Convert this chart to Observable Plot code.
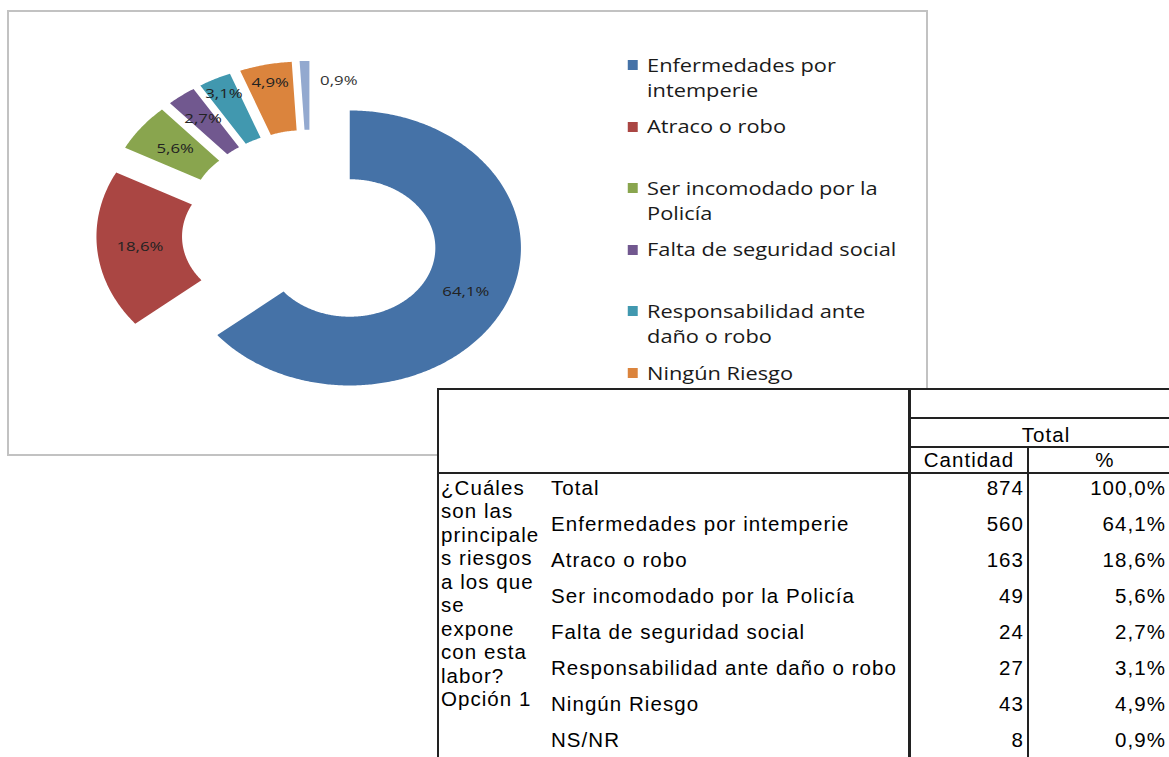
<!DOCTYPE html>
<html>
<head>
<meta charset="utf-8">
<script src="https://cdn.jsdelivr.net/npm/d3@7"></script>
<script src="https://cdn.jsdelivr.net/npm/@observablehq/plot@0.6"></script>
<style>
  html, body { margin: 0; padding: 0; background: #fff; }
  body { width: 1169px; height: 757px; overflow: hidden; position: relative; }
  #box { position: absolute; left: 7px; top: 10px; width: 917px; height: 442px;
         border: 2px solid #c2c2c2; overflow: hidden; background: #fff; }
  #stretch { position: absolute; left: 0; top: 0; width: 740px; height: 442px;
             transform: scaleX(1.245); transform-origin: 0 0; }
  #plot { position: absolute; left: 0; top: 0; }
  .leg { position: absolute; left: 497px; width: 222px; font-family: "Open Sans", sans-serif;
         font-size: 17.5px; line-height: 25px; color: #1a1a1a; }
  .leg .sw { position: absolute; left: 0; top: 7.5px; width: 8px; height: 10px; }
  .leg .lb { position: absolute; left: 15.5px; top: 0; width: 206px; }
  #tbl { position: absolute; left: 437px; top: 388px; width: 745px; height: 380px; background: #fff;
         font-family: "Liberation Sans", Arial, sans-serif; font-size: 20.5px; letter-spacing: 1.05px; color: #000; }
  #tbl .ln { position: absolute; background: #222; }
  #tbl .tx { position: absolute; line-height: 23px; height: 23px; white-space: nowrap; }
</style>
</head>
<body>
<div id="box"><div id="stretch"><div id="plot"></div><div id="legend"></div></div></div>
<div id="tbl"></div>
<script>
// ---------------- data ----------------
const categories = [
  "Enfermedades por intemperie",
  "Atraco o robo",
  "Ser incomodado por la Policía",
  "Falta de seguridad social",
  "Responsabilidad ante daño o robo",
  "Ningún Riesgo",
  "NS/NR"
];
const counts = [560, 163, 49, 24, 27, 43, 8];
const percentLabels = ["64,1%", "18,6%", "5,6%", "2,7%", "3,1%", "4,9%", "0,9%"];
const totalLabel = "Total";
const totalCount = 874;
const totalPercent = "100,0%";
const questionLines = ["¿Cuáles", "son las", "principale", "s riesgos", "a los que", "se", "expone", "con esta", "labor?", "Opción 1"];
const headerTotal = "Total";
const headerCount = "Cantidad";
const headerPct = "%";

// ---------------- styles / layout ----------------
const colors = ["#4572A7", "#AA4643", "#89A54E", "#71588F", "#4198AF", "#DB843D", "#93A9CF"];
const EXPLODE = 0.2526, HOLE = 0.5;
const W = 480, H = 442, CX = 241.8, CY = 220.6, R = 137.5;
// label ring radius and horizontal nudge per slice (layout only)
const labelRing = {"Falta de seguridad social": 0.79, "Responsabilidad ante daño o robo": 0.88, "Ningún Riesgo": 0.87, "NS/NR": 0.857};
const labelDx = {"NS/NR": 27};

// ---------------- donut geometry from values ----------------
const arcs = d3.pie().sort(null).value(d => d)(counts);
const pts = [];
const labels = [];
arcs.forEach((a, i) => {
  const cat = categories[i];
  const m = (a.startAngle + a.endAngle) / 2;
  const ox = EXPLODE * Math.sin(m), oy = EXPLODE * Math.cos(m);
  const n = Math.max(2, Math.ceil((a.endAngle - a.startAngle) / 0.01));
  for (let k = 0; k <= n; k++) {
    const t = a.startAngle + (a.endAngle - a.startAngle) * k / n;
    pts.push({cat, x: ox + Math.sin(t), y: oy + Math.cos(t)});
  }
  for (let k = n; k >= 0; k--) {
    const t = a.startAngle + (a.endAngle - a.startAngle) * k / n;
    pts.push({cat, x: ox + HOLE * Math.sin(t), y: oy + HOLE * Math.cos(t)});
  }
  const r = labelRing[cat] ?? 0.75;
  labels.push({cat, text: percentLabels[i], x: ox + r * Math.sin(m), y: oy + r * Math.cos(m), dx: labelDx[cat] ?? 0});
});

const chart = Plot.plot({
  width: W, height: H,
  margin: 0,
  x: {domain: [-CX / R, (W - CX) / R], axis: null},
  y: {domain: [-(H - CY) / R, CY / R], axis: null},
  color: {domain: categories, range: colors},
  style: {background: "transparent", fontFamily: "Open Sans, sans-serif"},
  marks: [
    Plot.line(pts, {x: "x", y: "y", z: "cat", fill: "cat", stroke: "none", curve: "linear"}),
    Plot.text(labels.filter(d => !d.dx), {x: "x", y: "y", text: "text", fill: "#222", fontSize: 13.5}),
    Plot.text(labels.filter(d => d.dx), {x: "x", y: "y", text: "text", fill: "#333", fontSize: 13.5, dx: labelDx["NS/NR"]})
  ]
});
document.getElementById("plot").appendChild(chart);

// ---------------- legend ----------------
const leg = document.getElementById("legend");
categories.forEach((c, i) => {
  const it = document.createElement("div");
  it.className = "leg";
  it.style.top = (40.5 + i * 61.6) + "px";
  it.innerHTML = `<span class="sw" style="background:${colors[i]}"></span><span class="lb"></span>`;
  it.querySelector(".lb").textContent = c;
  leg.appendChild(it);
});

// ---------------- table ----------------
const T = document.getElementById("tbl");
function ln(l, t, w, h) {
  const d = document.createElement("div"); d.className = "ln";
  Object.assign(d.style, {left: l + "px", top: t + "px", width: w + "px", height: h + "px"});
  T.appendChild(d);
}
function tx(s, l, cy, w, align) {
  const d = document.createElement("div"); d.className = "tx";
  d.textContent = s;
  Object.assign(d.style, {left: l + "px", top: (cy - 11.5) + "px", width: w + "px", textAlign: align});
  T.appendChild(d);
}
ln(0, 0, 745, 2);          // top border
ln(0, 0, 2, 380);          // left border
ln(471, 0, 3, 380);        // thick divider
ln(473, 29, 272, 2);
ln(473, 58, 272, 2);
ln(590, 59, 1.5, 330);
ln(0, 84, 745, 2);
tx(headerTotal, 474, 46, 270, "center");
tx(headerCount, 474, 71, 116, "center");
tx(headerPct, 592, 71, 152, "center");
const rows = [{label: totalLabel, count: totalCount, pct: totalPercent}]
  .concat(categories.map((c, i) => ({label: c, count: counts[i], pct: percentLabels[i]})));
rows.forEach((r, i) => {
  const cy = 99 + 36 * i;
  tx(r.label, 114, cy, 350, "left");
  tx(String(r.count), 474, cy, 113, "right");
  tx(r.pct, 592, cy, 137, "right");
});
questionLines.forEach((s, i) => tx(s, 4, 99 + 23.55 * i, 110, "left"));
</script>
</body>
</html>
